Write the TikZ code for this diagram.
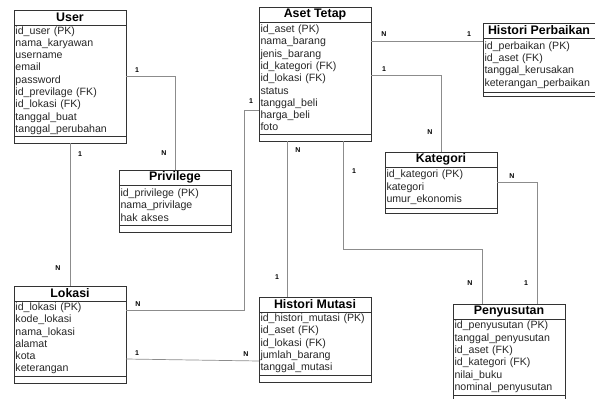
\documentclass[tikz,border=0pt]{standalone}
\usepackage{fontspec}
\setmainfont{Liberation Sans}
\usetikzlibrary{positioning}
\tikzset{
  judul/.style={draw=black!80, line width=0.8pt, anchor=north west, minimum width=112pt,
    minimum height=15pt, inner sep=0pt, outer sep=0pt, font=\bfseries\fontsize{12.4}{14}\selectfont},
  atribut/.style={draw=black!80, line width=0.8pt, minimum width=112pt, text width=109pt,
    inner xsep=1.5pt, inner ysep=0pt, outer sep=0pt, align=left, text=black!85,
    font=\fontsize{10.6}{12.3}\selectfont},
  kaki/.style={draw=black!80, line width=0.8pt, minimum width=112pt, inner sep=0pt, outer sep=0pt},
  relasi/.style={draw=black!45, line width=0.7pt},
  kard/.style={font=\bfseries\fontsize{7}{8}\selectfont, inner sep=0pt}
}
\newcommand{\entitas}[6]{%
  \node[judul] (#1) at (#2) {#3};
  \node[atribut, minimum height=#5, below=0pt of #1] (#1-a) {#4};
  \node[kaki, minimum height=#6, below=0pt of #1-a] (#1-k) {};
}
\begin{document}
\begin{tikzpicture}[x=1pt,y=-1pt]
  \useasboundingbox (0,0) rectangle (595,399);
  \clip (0,0) rectangle (595,399);
  \entitas{user}{14,10}{User}{id\_user (PK)\\nama\_karyawan\\username\\email\\password\\id\_previlage (FK)\\id\_lokasi (FK)\\tanggal\_buat\\tanggal\_perubahan}{111pt}{7pt}
  \entitas{aset}{259,7}{Aset Tetap}{id\_aset (PK)\\nama\_barang\\jenis\_barang\\id\_kategori (FK)\\id\_lokasi (FK)\\status\\tanggal\_beli\\harga\_beli\\foto}{112pt}{7pt}
  \entitas{perbaikan}{483,23}{Histori Perbaikan}{id\_perbaikan (PK)\\id\_aset (FK)\\tanggal\_kerusakan\\keterangan\_perbaikan}{54pt}{4pt}
  \entitas{kategori}{385,152}{Kategori}{id\_kategori (PK)\\kategori\\umur\_ekonomis}{41pt}{5pt}
  \entitas{priv}{119,170}{Privilege}{id\_privilege (PK)\\nama\_privilage\\hak akses}{40pt}{7pt}
  \entitas{lokasi}{14,286}{Lokasi}{id\_lokasi (PK)\\kode\_lokasi\\nama\_lokasi\\alamat\\kota\\keterangan}{75pt}{7pt}
  \entitas{mutasi}{259,297}{Histori Mutasi}{id\_histori\_mutasi (PK)\\id\_aset (FK)\\id\_lokasi (FK)\\jumlah\_barang\\tanggal\_mutasi}{63pt}{7pt}
  \entitas{susut}{453,304}{Penyusutan}{id\_penyusutan (PK)\\tanggal\_penyusutan\\id\_aset (FK)\\id\_kategori (FK)\\nilai\_buku\\nominal\_penyusutan}{76pt}{10pt}

  \draw[relasi] ([yshift=4.5pt]user-a.east) node[kard,xshift=11pt,yshift=6pt]{1}
    -| (priv.north) node[kard,xshift=-11pt,yshift=17pt]{N};
  \draw[relasi] (user-k.south) node[kard,xshift=10pt,yshift=-11pt]{1}
    -- (lokasi.north) node[kard,xshift=-12pt,yshift=18pt]{N};
  \draw[relasi] ([yshift=28.5pt]lokasi-a.east) node[kard,xshift=12pt,yshift=6pt]{N}
    -- ++(118,0) |- ([yshift=-32pt]aset-a.west) node[kard,xshift=-8pt,yshift=9pt]{1};
  \draw[relasi] ([yshift=-20.5pt]lokasi-a.east) node[kard,xshift=11pt,yshift=6pt]{1}
    -- ([yshift=-17.5pt]mutasi-a.west) node[kard,xshift=-13pt,yshift=7pt]{N};
  \draw[relasi] ([xshift=-28pt]aset-k.south) node[kard,xshift=11pt,yshift=-9pt]{N}
    -- ([xshift=-28pt]mutasi.north) node[kard,xshift=-10pt,yshift=20pt]{1};
  \draw[relasi] ([xshift=28pt]aset-k.south) node[kard,xshift=11pt,yshift=-30pt]{1}
    -- ++(0,108) -| ([xshift=-27pt]susut.north) node[kard,xshift=-12pt,yshift=21pt]{N};
  \draw[relasi] ([yshift=3pt]aset-a.east) node[kard,xshift=13pt,yshift=6pt]{1}
    -| (kategori.north) node[kard,xshift=-11pt,yshift=20pt]{N};
  \draw[relasi] ([yshift=37pt]aset-a.east) node[kard,xshift=13pt,yshift=7pt]{N}
    -- ([yshift=24pt]perbaikan-a.west) node[kard,xshift=-14pt,yshift=7pt]{1};
  \draw[relasi] ([yshift=5.5pt]kategori-a.east) node[kard,xshift=15pt,yshift=6pt]{N}
    -| ([xshift=28pt]susut.north) node[kard,xshift=-11pt,yshift=21pt]{1};
\end{tikzpicture}
\end{document}
